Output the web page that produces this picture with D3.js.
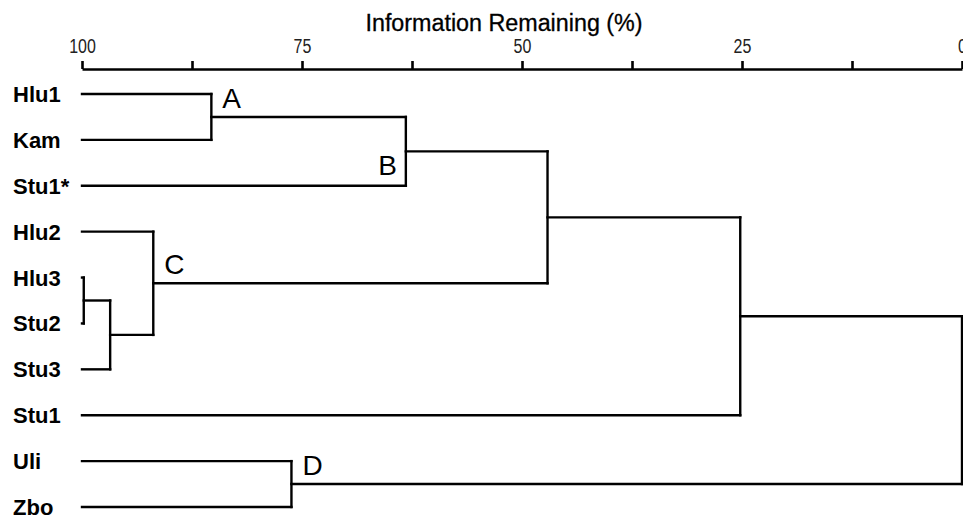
<!DOCTYPE html>
<html>
<head>
<meta charset="utf-8">
<script src="https://cdn.jsdelivr.net/npm/d3@7"></script>
<style>
  html, body { margin: 0; padding: 0; background: #fff; }
  svg { display: block; }
</style>
</head>
<body>
<svg id="chart" width="963" height="519"></svg>
<script>
// ---- Data ----
const leaves = ["Hlu1", "Kam", "Stu1*", "Hlu2", "Hlu3", "Stu2", "Stu3", "Stu1", "Uli", "Zbo"];
const mergeNames = ["A", "B", "m3", "m4", "C", "m6", "m7", "D", "root"];
const mergeChildren = [
  ["Hlu1", "Kam"],
  ["A", "Stu1*"],
  ["Hlu3", "Stu2"],
  ["m3", "Stu3"],
  ["Hlu2", "m4"],
  ["B", "C"],
  ["m6", "Stu1"],
  ["Uli", "Zbo"],
  ["m7", "D"]
];
const mergeHeights = [85.3, 63.2, 99.8, 96.8, 91.9, 47.1, 25.2, 76.2, 0];
const nodeLabels = ["A", "B", "", "", "C", "", "", "D", ""];
const tickValues = [100, 87.5, 75, 62.5, 50, 37.5, 25, 12.5, 0];
const tickLabels = ["100", "", "75", "", "50", "", "25", "", "0"];
const axisTitle = "Information Remaining (%)";

// ---- Build the hierarchy ----
const nodes = {};
leaves.forEach(n => { nodes[n] = { name: n, height: 100, leaf: true }; });
mergeNames.forEach((n, i) => {
  nodes[n] = {
    name: n,
    height: mergeHeights[i],
    label: nodeLabels[i],
    children: mergeChildren[i].map(c => nodes[c])
  };
});
const root = d3.hierarchy(nodes["root"]);

// ---- Scales ----
const x = d3.scaleLinear().domain([100, 0]).range([82, 962]);
const y = d3.scalePoint().domain(leaves).range([94, 507]);

root.eachAfter(d => {
  d.px = x(d.data.height);
  d.py = d.children ? d3.mean(d.children, c => c.py) : y(d.data.name);
});

const svg = d3.select("#chart");
const font = "Arial, 'Liberation Sans', Helvetica, sans-serif";

// ---- Axis ----
const axisY = 69;
const axis = d3.axisTop(x)
  .tickValues(tickValues)
  .tickFormat((d, i) => tickLabels[i])
  .tickSize(8)
  .tickSizeOuter(0)
  .tickPadding(8);

const gAxis = svg.append("g")
  .attr("transform", `translate(0,${axisY})`)
  .call(axis);
gAxis.select(".domain").attr("stroke", "#000").attr("stroke-width", 2.6);
gAxis.selectAll(".tick line").attr("stroke", "#000").attr("stroke-width", 2.6);
gAxis.selectAll(".tick text")
  .attr("fill", "#222")
  .attr("font-family", font)
  .attr("font-size", 19.5)
  .attr("transform", "scale(0.82,1)");

svg.append("text")
  .attr("x", 504)
  .attr("y", 31)
  .attr("text-anchor", "middle")
  .attr("font-family", font)
  .attr("font-size", 23.3)
  .attr("fill", "#000")
  .attr("stroke", "#000")
  .attr("stroke-width", 0.3)
  .text(axisTitle);

// ---- Links (elbow dendrogram) ----
const linkG = svg.append("g")
  .attr("fill", "none")
  .attr("stroke", "#000")
  .attr("stroke-width", 2.4)
  .attr("stroke-linecap", "square");

root.descendants().filter(d => d.children).forEach(d => {
  const ys = d.children.map(c => c.py);
  linkG.append("line")
    .attr("x1", d.px).attr("x2", d.px)
    .attr("y1", d3.min(ys)).attr("y2", d3.max(ys));
  d.children.forEach(c => {
    if (Math.abs(d.px - c.px) > 0.5) {
      linkG.append("line")
        .attr("x1", c.px).attr("x2", d.px)
        .attr("y1", c.py).attr("y2", c.py);
    }
  });
});

// ---- Leaf labels ----
svg.append("g").selectAll("text")
  .data(root.leaves())
  .join("text")
  .attr("x", 13)
  .attr("y", d => d.py + 8)
  .attr("font-family", font)
  .attr("font-weight", "bold")
  .attr("font-size", 22)
  .attr("fill", "#000")
  .text(d => d.data.name);

// ---- Cluster labels ----
const labelled = root.descendants().filter(d => d.data.label);
svg.append("g").selectAll("text")
  .data(labelled)
  .join("text")
  .attr("x", d => d.data.label === "B" ? d.px - 9 : d.px + 11)
  .attr("y", d => d.data.label === "B" ? d.py + 24 : d.py - 9)
  .attr("text-anchor", d => d.data.label === "B" ? "end" : "start")
  .attr("font-family", font)
  .attr("font-size", 28)
  .attr("fill", "#000")
  .text(d => d.data.label);
</script>
</body>
</html>
